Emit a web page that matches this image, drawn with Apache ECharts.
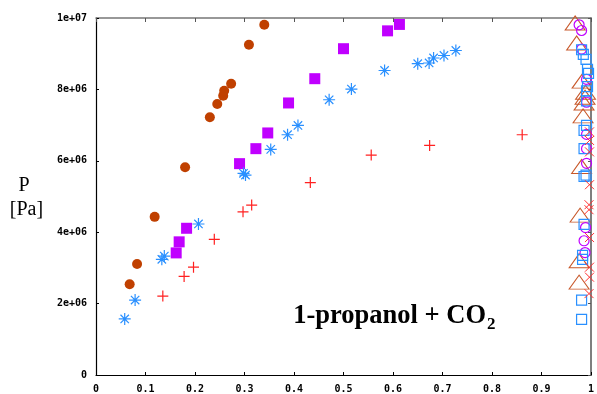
<!DOCTYPE html>
<html>
<head>
<meta charset="utf-8">
<script src="https://cdn.jsdelivr.net/npm/echarts@6/dist/echarts.min.js"></script>
<style>
  html, body { margin: 0; padding: 0; background: #fff; }
  #chart { width: 597px; height: 394px; }
</style>
</head>
<body>
<div id="chart"></div>
<script>
// Liquid-phase compositions (filled markers) and the coexisting vapour (open markers)
const brownLiqX = [0.068, 0.083, 0.1185, 0.180, 0.230, 0.245, 0.257, 0.259, 0.273, 0.309, 0.340];
const brownLiqP = [2.54e6, 3.11e6, 4.43e6, 5.82e6, 7.22e6, 7.59e6, 7.82e6, 7.96e6, 8.16e6, 9.25e6, 9.81e6];
const brownVapX = [0.976, 0.976, 0.978, 0.981, 0.984, 0.986, 0.988, 0.989, 0.982, 0.971, 0.968];
const brownVapP = [2.60e6, 3.20e6, 4.48e6, 5.84e6, 7.26e6, 7.62e6, 7.78e6, 7.92e6, 8.23e6, 9.30e6, 9.86e6];

const violetLiqX = [0.162, 0.168, 0.183, 0.290, 0.323, 0.347, 0.389, 0.442, 0.500, 0.589, 0.613];
const violetLiqP = [3.42e6, 3.73e6, 4.11e6, 5.92e6, 6.34e6, 6.78e6, 7.62e6, 8.30e6, 9.14e6, 9.64e6, 9.82e6];
const violetVapX = [0.988, 0.986, 0.989, 0.991, 0.991, 0.991, 0.991, 0.991, 0.981, 0.981, 0.976];
const violetVapP = [3.43e6, 3.76e6, 4.13e6, 5.93e6, 6.34e6, 6.74e6, 7.64e6, 8.28e6, 9.13e6, 9.65e6, 9.81e6];

const blueLiqX = [0.058, 0.079, 0.133, 0.138, 0.207, 0.298, 0.302, 0.353, 0.387, 0.408, 0.471, 0.516, 0.583, 0.650, 0.673, 0.682, 0.703, 0.727];
const blueLiqP = [1.57e6, 2.10e6, 3.24e6, 3.33e6, 4.23e6, 5.65e6, 5.60e6, 6.32e6, 6.73e6, 6.99e6, 7.71e6, 8.01e6, 8.53e6, 8.72e6, 8.74e6, 8.88e6, 8.95e6, 9.09e6];
const blueVapX = [0.981, 0.981, 0.983, 0.983, 0.986, 0.986, 0.990, 0.986, 0.986, 0.991, 0.991, 0.991, 0.993, 0.995, 0.993, 0.990, 0.9845, 0.981];
const blueVapP = [1.56e6, 2.10e6, 3.24e6, 3.35e6, 4.22e6, 5.56e6, 5.60e6, 6.34e6, 6.85e6, 6.99e6, 7.68e6, 7.96e6, 8.08e6, 8.45e6, 8.56e6, 8.84e6, 8.98e6, 9.11e6];

const redLiqX = [0.135, 0.178, 0.197, 0.239, 0.297, 0.3145, 0.433, 0.556, 0.674, 0.861];
const redLiqP = [2.21e6, 2.76e6, 3.02e6, 3.80e6, 4.57e6, 4.76e6, 5.39e6, 6.16e6, 6.43e6, 6.73e6];
const redVapX = [0.996, 0.997, 0.997, 0.997, 0.996, 0.996, 0.997, 0.997, 0.997, 0.997];
const redVapP = [2.28e6, 2.74e6, 3.02e6, 3.85e6, 4.63e6, 4.77e6, 5.33e6, 6.25e6, 6.57e6, 6.81e6];

const xTickLabels = ['0', '0.1', '0.2', '0.3', '0.4', '0.5', '0.6', '0.7', '0.8', '0.9', '1'];
const yTickLabels = ['0', '2e+06', '4e+06', '6e+06', '8e+06', '1e+07'];

const zip = (xs, ys) => xs.map((x, i) => [x, ys[i]]);

const PLUS = 'path://M0,5L10,5M5,0L5,10';
const CROSS = 'path://M0,0L10,10M10,0L0,10';
const STAR = 'path://M0,5L10,5M5,0L5,10M1.5,1.5L8.5,8.5M8.5,1.5L1.5,8.5';

const tickFont = { fontFamily: 'DejaVu Sans Mono', fontWeight: 'bold', fontSize: 10, color: '#000' };

function scatter(data, symbol, size, fill, stroke, width) {
  return {
    type: 'scatter', data, symbol, symbolSize: size, silent: true,
    itemStyle: { color: fill, borderColor: stroke, borderWidth: width, opacity: 1 },
    emphasis: { disabled: true }
  };
}

const chart = echarts.init(document.getElementById('chart'), null, { renderer: 'canvas' });
chart.setOption({
  animation: false,
  backgroundColor: '#fff',
  grid: { left: 96, right: 6, top: 18, bottom: 15 },
  xAxis: [{
    type: 'value', min: 0, max: 1, interval: 0.1, position: 'bottom',
    axisLine: { show: true, onZero: false, lineStyle: { color: '#000', width: 1.2 } },
    axisTick: { show: true, inside: true, length: 3, lineStyle: { color: '#000' } },
    axisLabel: Object.assign({ margin: 9, formatter: (v, i) => xTickLabels[i] }, tickFont),
    splitLine: { show: false }
  }, {
    type: 'value', min: 0, max: 1, interval: 0.1, position: 'top',
    axisLine: { show: true, onZero: false, lineStyle: { color: '#777', width: 1.5 } },
    axisTick: { show: true, inside: true, length: 4, lineStyle: { color: '#555' } },
    axisLabel: { show: false }, splitLine: { show: false }
  }],
  yAxis: [{
    type: 'value', min: 0, max: 1e7, interval: 2e6, position: 'left',
    axisLine: { show: true, onZero: false, lineStyle: { color: '#000', width: 1.2 } },
    axisTick: { show: true, inside: true, length: 3, lineStyle: { color: '#000' } },
    axisLabel: Object.assign({ margin: 9, formatter: (v, i) => yTickLabels[i] }, tickFont),
    splitLine: { show: false }
  }, {
    type: 'value', min: 0, max: 1e7, interval: 2e6, position: 'right',
    axisLine: { show: true, onZero: false, lineStyle: { color: '#555', width: 1.5 } },
    axisTick: { show: true, inside: true, length: 3, lineStyle: { color: '#555' } },
    axisLabel: { show: false }, splitLine: { show: false }
  }],
  graphic: [
    { type: 'text', x: 24, y: 186, silent: true,
      style: { text: 'P', font: '20px "Liberation Serif"', fill: '#000', textAlign: 'center', textVerticalAlign: 'middle' } },
    { type: 'text', x: 26.5, y: 210, silent: true,
      style: { text: '[Pa]', font: '20px "Liberation Serif"', fill: '#000', textAlign: 'center', textVerticalAlign: 'middle' } },
    { type: 'text', x: 486, y: 316, silent: true,
      style: { text: '1-propanol + CO', font: 'bold 26.5px "Liberation Serif"', fill: '#000', textAlign: 'right', textVerticalAlign: 'middle' } },
    { type: 'text', x: 487, y: 324.5, silent: true,
      style: { text: '2', font: 'bold 17px "Liberation Serif"', fill: '#000', textAlign: 'left', textVerticalAlign: 'middle' } }
  ],
  series: [
    scatter(zip(brownLiqX, brownLiqP), 'circle', 10, '#c04000', '#c04000', 0),
    scatter(zip(brownVapX, brownVapP), 'triangle', [20, 14], 'rgba(0,0,0,0)', '#c8582a', 1),
    scatter(zip(violetLiqX, violetLiqP), 'rect', 11, '#c000ff', '#c000ff', 0),
    scatter(zip(violetVapX, violetVapP), 'circle', 10, 'rgba(0,0,0,0)', '#c000ff', 1.2),
    scatter(zip(blueLiqX, blueLiqP), STAR, 12, '#2a90ff', '#2a90ff', 1.2),
    scatter(zip(blueVapX, blueVapP), 'rect', 10, 'rgba(0,0,0,0)', '#2a90ff', 1.2),
    scatter(zip(redLiqX, redLiqP), PLUS, 11, '#ff2020', '#ff2020', 1.2),
    scatter(zip(redVapX, redVapP), CROSS, 9, '#ff3030', '#ff3030', 1)
  ]
});
</script>
</body>
</html>
